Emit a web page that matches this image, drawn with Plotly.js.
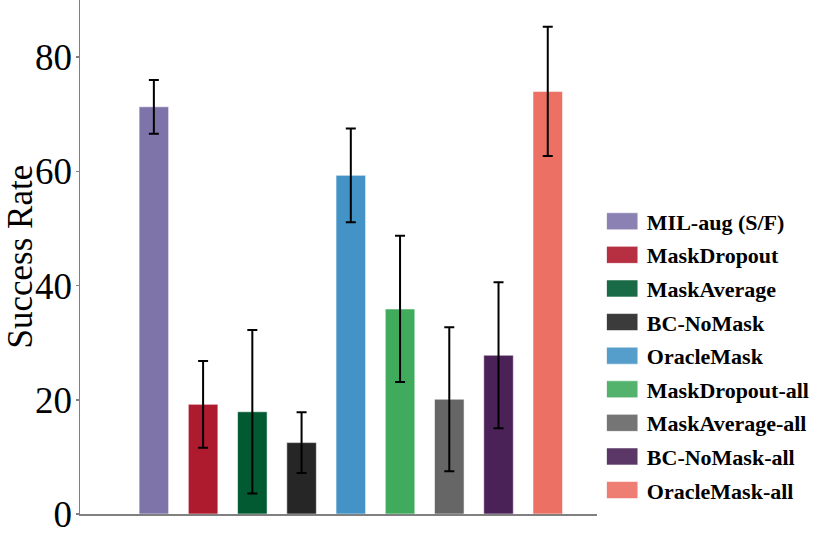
<!DOCTYPE html>
<html>
<head>
<meta charset="utf-8">
<script src="https://cdn.plot.ly/plotly-3.0.1.min.js"></script>
<style>
  body { margin: 0; background: #fff; }
  #chart { width: 830px; height: 534px; }
</style>
</head>
<body>
<div id="chart"></div>
<script>
// methods, in drawing order
const methods = ['MIL-aug (S/F)', 'MaskDropout', 'MaskAverage', 'BC-NoMask', 'OracleMask',
                 'MaskDropout-all', 'MaskAverage-all', 'BC-NoMask-all', 'OracleMask-all'];
const successRate = [71.3, 19.2, 17.9, 12.5, 59.3, 35.9, 20.1, 27.8, 74.0];
const errorSize = [4.7, 7.6, 14.3, 5.3, 8.2, 12.8, 12.6, 12.8, 11.3];
const barColors = ['#7f74aa', '#ae1a2e', '#015a32', '#262626', '#4393c6',
                   '#41ab5d', '#666666', '#4a2258', '#ed7064'];
const yTicks = [0, 20, 40, 60, 80];

const serif = '"Liberation Serif", "DejaVu Serif", serif';

const traces = methods.map((name, i) => ({
    type: 'bar',
    name: name,
    legendgroup: 'g' + i,
    x: [i],
    y: [successRate[i]],
    width: 0.6,
    marker: { color: barColors[i], line: { color: 'rgba(255,255,255,0.55)', width: 1 } },
    error_y: { type: 'data', array: [errorSize[i]], visible: true,
               color: '#000', thickness: 2, width: 5 },
    hoverinfo: 'name+y'
}));

const layout = {
    width: 830,
    height: 534,
    margin: { l: 80, r: 233, t: 0, b: 20 },
    paper_bgcolor: '#fff',
    plot_bgcolor: '#fff',
    showlegend: true,
    barmode: 'overlay',
    xaxis: {
        range: [-1.5, 9.0],
        showticklabels: false,
        ticks: '',
        showgrid: false,
        zeroline: false,
        showline: true,
        linecolor: '#808080',
        linewidth: 1.5
    },
    yaxis: {
        range: [0, 90],
        tickvals: yTicks,
        ticktext: yTicks.map(String),
        ticks: 'outside',
        ticklen: 3,
        tickwidth: 1.5,
        tickcolor: '#808080',
        ticklabelstandoff: -4,
        ticklabeloverflow: 'allow',
        showgrid: false,
        zeroline: false,
        showline: true,
        linecolor: '#808080',
        linewidth: 1.5,
        tickfont: { family: serif, size: 37, color: '#000' }
    },
    // y-axis title as a rotated annotation so it sits clear of the big tick labels
    annotations: [{
        text: 'Success Rate',
        xref: 'paper', yref: 'paper',
        x: -0.117, y: 0.5,
        xanchor: 'center', yanchor: 'middle',
        textangle: -90,
        showarrow: false,
        font: { family: serif, size: 35, color: '#000' }
    }],
    legend: {
        x: 1.019,
        xanchor: 'left',
        y: 0.61,
        yanchor: 'top',
        tracegroupgap: 2,
        font: { family: serif, size: 22, color: '#000', weight: 'bold' },
        bgcolor: 'rgba(0,0,0,0)'
    }
};

Plotly.newPlot('chart', traces, layout, { displayModeBar: false, staticPlot: true }).then(gd => {
    // wider legend boxes, like the reference
    gd.querySelectorAll('g.legendpoints path').forEach(p => {
        p.setAttribute('d', 'M-21,-8.5H11V8.5H-21Z');
        p.style.opacity = 0.9;
    });
});
</script>
</body>
</html>
